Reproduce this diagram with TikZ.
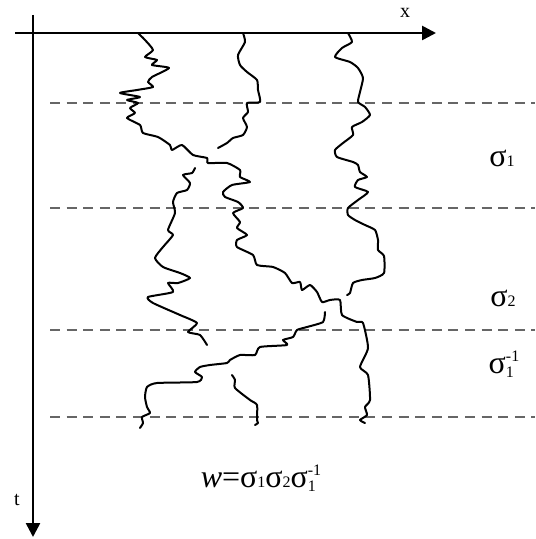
\documentclass[tikz,border=0pt]{standalone}
\usepackage{fontspec}
\setmainfont{Liberation Serif}
\usepackage{tikz}
\usetikzlibrary{arrows.meta}
\definecolor{dashgray}{HTML}{666666}
\newcommand{\sidx}[1]{{\fontsize{8}{8}\selectfont #1}}
\newcommand{\sidxup}[2]{\raisebox{-2.2pt}{\fontsize{8}{6.5}\selectfont\shortstack[l]{#2\\#1}}}
\tikzset{
  axis/.style={line width=1.3pt,-{Triangle[length=7pt,width=7pt]}},
  level/.style={color=dashgray,line width=0.55pt,dash pattern=on 5pt off 3.3pt},
  strand/.style={line width=1pt,line join=round,line cap=round},
  lab/.style={inner sep=0pt,font=\fontsize{16}{18}\selectfont},
  axlab/.style={inner sep=0pt,font=\fontsize{10}{12}\selectfont}
}
\begin{document}
\begin{tikzpicture}[x=0.5pt,y=-0.5pt]
  \useasboundingbox (0,0) rectangle (535,539);
  % axes
  \coordinate (xs) at (15,33);
  \coordinate (xe) at (436,33);
  \coordinate (ts) at (33,15);
  \coordinate (te) at (33,537);
  \draw[axis] (xs) -- (xe);
  \draw[axis] (ts) -- (te);
  \node[axlab] (xlab) at (405,13) {x};
  \node[axlab] (tlab) at (17,500) {t};
  % time levels
  \foreach \y in {103,208,330,417}
    \draw[level] (50,\y) -- (535,\y);
  % strand starting on the left
  \draw[strand] plot[smooth,tension=0.35] coordinates {
    (138,33) (145,40) (153,50) (145,57) (157,60) (152,65) (169,68) (152,77)
    (148,82) (153,87) (137,90) (120,93) (140,97) (127,100) (138,103) (130,108)
    (135,113) (127,118) (140,125) (143,133) (158,137) (170,145) (172,150)
    (182,145) (193,155) (207,158) (208,163) (227,163) (240,170) (240,177)
    (250,182) (232,185) (223,192) (225,197) (238,202) (243,208) (233,213)
    (240,222) (237,228) (247,235) (237,240) (237,247) (253,255) (257,265)
    (273,267) (285,273) (292,283) (300,282) (302,290) (310,285) (317,292)
    (322,302) (330,300) (340,300) (342,315) (357,322) (363,323) (368,348)
    (360,367) (368,375) (370,400) (365,407) (367,415) (360,420) (365,423)};
  % strand starting in the middle
  \draw[strand] plot[smooth,tension=0.35] coordinates {
    (243,33) (245,42) (238,55) (240,65) (247,72) (257,80) (258,90) (260,102)
    (247,103) (248,112) (243,118) (247,127) (243,135) (233,138) (227,143)
    (218,148)};
  \draw[strand] plot[smooth,tension=0.35] coordinates {
    (195,168) (192,173) (183,175) (190,183) (187,190) (177,193) (173,202)
    (175,213) (168,230) (173,235) (163,247) (155,258) (163,267) (180,273)
    (190,278) (178,283) (168,283) (173,292) (148,297) (153,303) (180,315)
    (197,323) (188,332) (200,335) (207,345)};
  \draw[strand] plot[smooth,tension=0.35] coordinates {
    (232,375) (235,380) (235,388) (250,400) (257,405) (257,420) (258,423)
    (255,425)};
  % strand starting on the right
  \draw[strand] plot[smooth,tension=0.35] coordinates {
    (348,33) (352,42) (342,48) (335,57) (350,62) (358,68) (363,78) (360,92)
    (358,102) (365,107) (370,115) (362,122) (352,127) (353,135) (343,143)
    (335,150) (337,157) (353,162) (358,165) (360,172) (367,177) (358,180)
    (355,187) (368,192) (358,200) (348,208) (348,215) (355,220) (365,225)
    (375,230) (378,240) (378,250) (384,256) (384,273) (375,278) (362,280)
    (353,283) (350,293) (347,295)};
  \draw[strand] plot[smooth,tension=0.35] coordinates {
    (325,312) (323,322) (307,327) (297,330) (293,337) (283,340) (287,345)
    (260,347) (255,355) (240,355) (230,360) (227,363) (210,365) (200,367)
    (195,372) (202,377) (197,382) (157,383) (147,387) (145,397) (147,407)
    (150,413) (142,417) (143,423) (140,428)};
  % generators
  \node[lab] (s1) at (502,158) {σ\sidx{1}};
  \node[lab] (s2) at (503,298) {σ\sidx{2}};
  \node[lab] (s1inv) at (504,364) {σ\sidxup{1}{-1}};
  \node[lab] (word) at (261,478) {\textit{w}=σ\sidx{1}σ\sidx{2}σ\sidxup{1}{-1}};
\end{tikzpicture}
\end{document}
